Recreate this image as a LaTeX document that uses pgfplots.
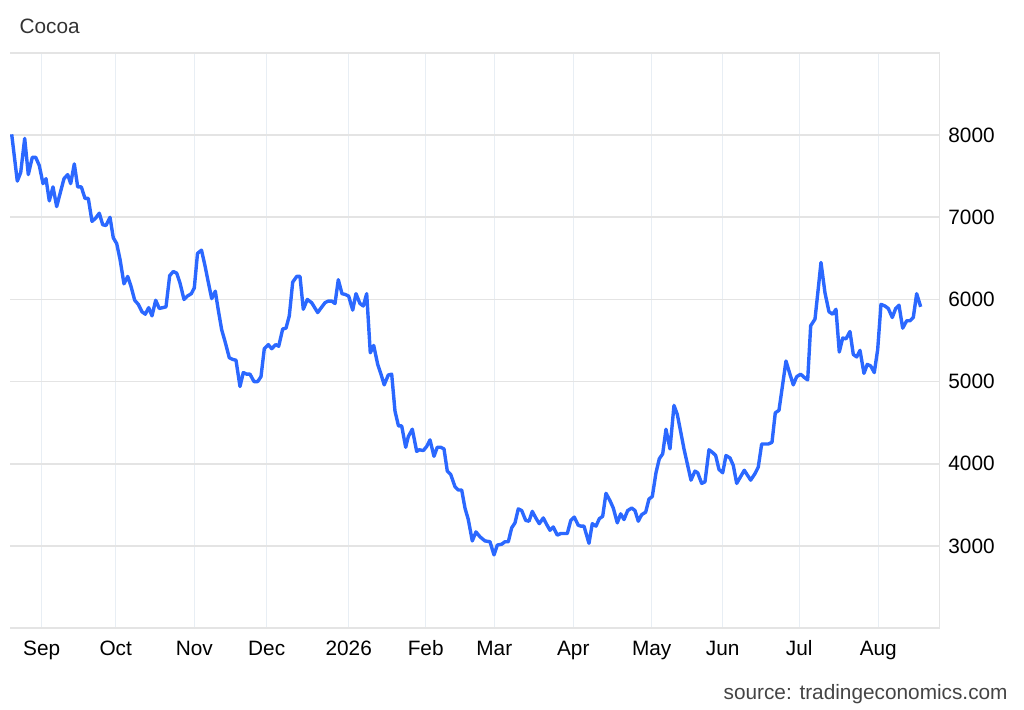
\documentclass[border=0pt]{standalone}
\usepackage{fontspec}
\setmainfont{Liberation Sans}
\usepackage{pgfplots}
\pgfplotsset{compat=1.18}
\usepackage{pgfplotstable}

\definecolor{cocoablue}{RGB}{43,104,255}
\definecolor{hgrid}{RGB}{228,228,228}
\definecolor{vgrid}{RGB}{232,238,244}
\definecolor{titlegray}{RGB}{51,51,51}
\definecolor{srcgray}{RGB}{68,68,68}

\newcommand{\chartfont}{\fontsize{10.4bp}{12bp}\selectfont}

% x: position along the time axis (0 = left edge of plot), y: price
\pgfplotstableread{
x y
1.7 8010
7.3 7440
10.7 7545
14.7 7960
18.3 7520
22.3 7730
25.7 7730
29.3 7630
33 7410
36 7470
39.3 7200
43 7370
46.7 7130
50.3 7300
54 7470
57.7 7520
60.7 7410
64.3 7650
67.7 7370
71.3 7370
75 7230
78.3 7230
82 6950
85.7 6990
89.3 7050
92.7 6910
96 6900
100 7000
103.3 6750
106.7 6680
110 6490
114 6190
117.7 6280
121 6160
124.7 5990
128.3 5940
132 5850
135.3 5820
138.7 5900
142 5800
145.7 5990
149.3 5890
152.7 5900
156 5910
159.7 6290
163.3 6340
166.7 6320
170 6200
174 6000
177.3 6040
181.3 6070
184.3 6140
187.5 6560
191.5 6600
195 6410
198.3 6210
201.7 6010
205.3 6100
208.3 5870
211.7 5630
215 5490
219.3 5290
222.7 5270
226 5260
230 4940
233.3 5110
236.7 5090
240 5090
244 5000
247.7 5000
251 5060
254.3 5400
258.3 5450
261.7 5400
265.7 5450
268.7 5430
272.7 5640
276 5650
279.3 5800
282.7 6210
286.7 6280
290 6280
293.3 5880
297.3 6000
301.7 5960
304.7 5900
307.7 5840
311.3 5900
315 5960
318.3 5980
321.7 5980
325 5950
328.3 6240
332 6070
335.3 6060
338.7 6040
342.7 5870
346 6070
350 5950
353.3 5920
356.7 6070
360.3 5350
363.7 5440
367.7 5210
371 5090
374.2 4960
378.3 5080
381.7 5090
385 4640
388.5 4460
391.7 4460
395.7 4200
398.3 4330
402.3 4420
406.7 4150
409.3 4170
413.3 4160
416.7 4210
420 4290
424 4090
427.3 4200
430.7 4200
434 4180
437.3 3910
440.7 3870
445 3720
448.3 3680
451.7 3680
455 3460
458.3 3320
462.3 3060
466 3170
470 3110
475 3060
480 3050
484 2890
487.3 3010
491.7 3020
495 3050
498.3 3050
501.7 3220
505 3280
508.3 3450
511.7 3430
515.7 3310
519 3300
522.3 3420
525.8 3340
529.3 3270
533.3 3340
536.7 3260
540 3190
543.3 3230
547.3 3130
550.7 3150
554 3150
557.3 3150
560.8 3310
564.3 3350
568.3 3250
571 3240
574 3240
579 3030
582.3 3270
586 3240
589.3 3330
592.7 3360
596 3640
600 3550
603.3 3460
607.3 3280
610.7 3390
614 3320
617.7 3430
621.7 3460
625 3430
628.3 3300
631.7 3380
635.7 3410
639 3570
642.3 3600
646 3890
649.3 4060
652.7 4120
656 4420
660 4180
664 4710
667.3 4600
670.7 4390
674 4180
677.5 3990
681 3800
685 3910
687.7 3890
691.7 3760
695 3780
699 4170
702.3 4140
705.7 4100
709 3930
712.7 3890
716 4100
720 4070
723.3 3980
726.7 3760
730.5 3840
734.3 3920
737.5 3860
740.7 3800
745 3880
748.3 3960
751.7 4240
755 4240
758.3 4240
762 4260
765.3 4620
769 4650
772.5 4950
776 5250
779.7 5100
783.3 4960
786.7 5060
790.7 5090
794.3 5050
797.7 5020
800.7 5680
805 5760
808 6100
811 6450
815 6080
819 5850
822.7 5820
826 5880
829.3 5360
832.7 5530
836 5520
840 5610
843.3 5330
846.7 5300
850 5380
854 5100
857.3 5210
860.7 5190
864.3 5110
867.7 5390
871 5940
875 5920
878.3 5890
882.3 5780
885.7 5890
889 5930
892.7 5650
896.7 5740
900 5740
903.3 5780
906.7 6070
910.7 5910
}\cocoadata

\begin{document}
\begin{tikzpicture}
\useasboundingbox (-5bp,-41bp) rectangle (507bp,314bp);
\begin{axis}[
    at={(0,0)}, anchor=south west,
    width=465bp, height=287.5bp,
    scale only axis,
    xmin=0, xmax=930,
    ymin=2000, ymax=9000,
    xtick={31.7,105.7,184.3,256.7,338.7,415.7,484.3,563.3,641.7,712.7,789.3,868.3},
    xticklabels={Sep,Oct,Nov,Dec,2026,Feb,Mar,Apr,May,Jun,Jul,Aug},
    ytick={2000,3000,...,9000},
    yticklabels={,3000,4000,5000,6000,7000,8000,},
    yticklabel pos=right,
    major tick length=0pt,
    axis line style={draw=none},
    xmajorgrids, ymajorgrids,
    x grid style={vgrid, line width=0.6bp},
    y grid style={hgrid, line width=0.9bp},
    xticklabel style={font=\chartfont, text=black, anchor=base, inner sep=0pt, yshift=-13.9bp},
    yticklabel style={font=\chartfont, text=black, anchor=west, inner sep=0pt, xshift=4bp},
    clip=true,
]
\draw[hgrid, line width=0.9bp] (rel axis cs:0,0) -- ([xshift=3bp]rel axis cs:1,0);
\draw[hgrid, line width=0.9bp] (rel axis cs:1,0) -- ([yshift=1bp]rel axis cs:1,1);
\addplot[cocoablue, line width=1.7bp, line join=round, mark=none] table[x=x, y=y] {\cocoadata};
\end{axis}
\node[anchor=base west, inner sep=0pt, font=\chartfont, text=titlegray] at (4.6bp,297bp) {Cocoa};
\node[anchor=base east, inner sep=0pt, font=\chartfont, text=srcgray] at (499bp,-35.5bp) {source: tradingeconomics.com};
\end{tikzpicture}
\end{document}
